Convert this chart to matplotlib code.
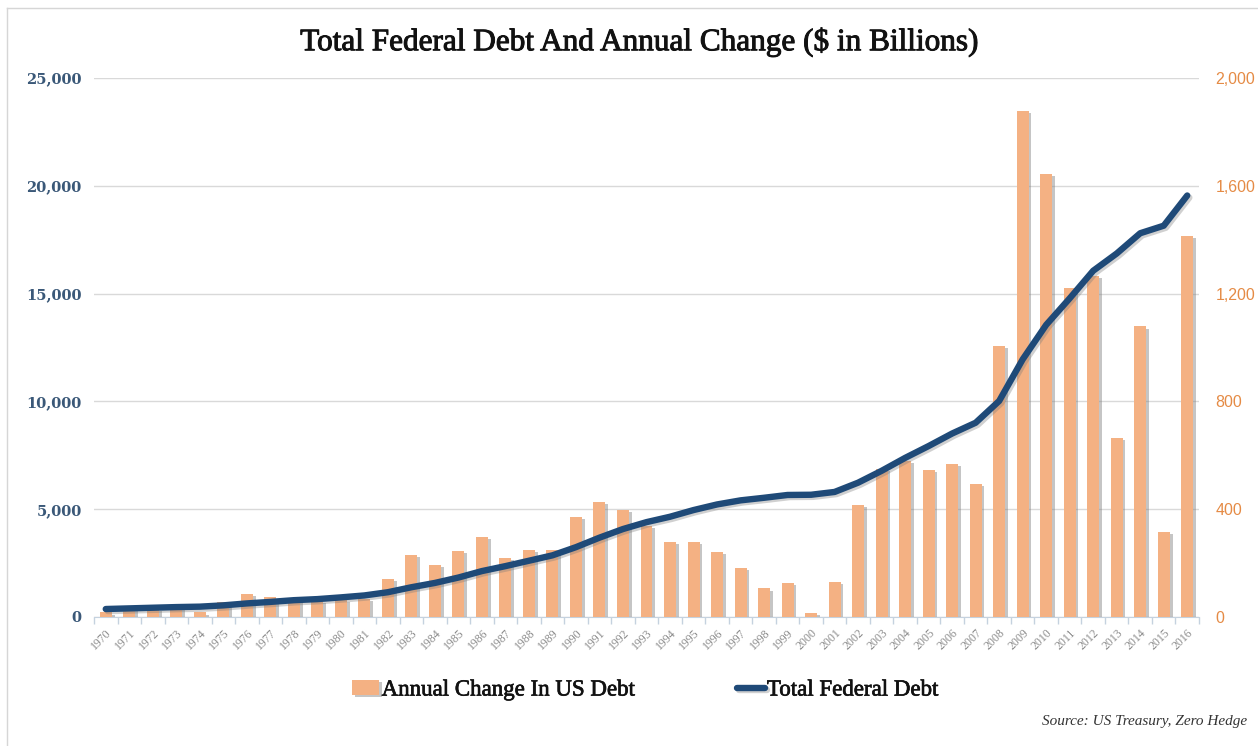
import matplotlib
matplotlib.use("Agg")
import matplotlib.pyplot as plt
import matplotlib.patheffects as pe
from matplotlib.lines import Line2D
from matplotlib.ticker import FuncFormatter, FixedLocator
import numpy as np

# ---------------- data ----------------
years = list(range(1970, 2017))
annual_change = [17, 30, 30, 35, 17, 55, 85, 74, 62, 58,
                 62, 68, 140, 230, 193, 244, 296, 220, 248, 250,
                 372, 427, 396, 338, 277, 277, 243, 183, 106, 127,
                 14, 131, 415, 551, 578, 547, 569, 494, 1007, 1878,
                 1645, 1221, 1267, 664, 1078, 316, 1415]
total_debt = [370, 400, 430, 460, 480, 540, 630, 700, 780, 830,
              910, 1000, 1150, 1380, 1580, 1830, 2130, 2360, 2610, 2860,
              3240, 3680, 4080, 4400, 4650, 4960, 5220, 5410, 5530, 5660,
              5670, 5800, 6230, 6780, 7380, 7930, 8510, 9010, 10020, 11950,
              13550, 14780, 16060, 16860, 17800, 18150, 19550]
left_ticks = [0, 5000, 10000, 15000, 20000, 25000]
right_ticks = [0, 400, 800, 1200, 1600, 2000]
title = "Total Federal Debt And Annual Change ($ in Billions)"
bar_label = "Annual Change In US Debt"
line_label = "Total Federal Debt"
source = "Source: US Treasury, Zero Hedge"

BAR_C = "#f4b183"
LINE_C = "#1f4a78"
LEFT_C = "#3a5878"
RIGHT_C = "#e58b45"

fig = plt.figure(figsize=(12.58, 7.46), dpi=100)
ax = fig.add_axes([94 / 1258, 1 - 617 / 746, (1199 - 94) / 1258, (617 - 78) / 746])

x = np.arange(len(years))
bars = ax.bar(x, annual_change, width=0.51, color=BAR_C, linewidth=0, zorder=3,
              path_effects=[pe.SimplePatchShadow(offset=(2.0, -1.5), shadow_rgbFace="#808080", alpha=0.45),
                            pe.Normal()])
ax.set_xlim(-0.5, len(years) - 0.5)
ax.set_ylim(right_ticks[0], right_ticks[-1])
ax.grid(axis="y", color="#d9d9d9", linewidth=1)
ax.set_axisbelow(True)

ax.set_xticks(x)
ax.set_xticklabels([str(y) for y in years], rotation=45, ha="right",
                   rotation_mode="anchor", fontsize=8.5, color="#8a8a8a",
                   family="Liberation Serif")
ax.tick_params(axis="x", which="major", length=0, pad=7)
ax.xaxis.set_minor_locator(FixedLocator(np.arange(-0.5, len(years), 1.0)))
ax.tick_params(axis="x", which="minor", length=5, color="#c5d2df", width=1)
for s in ("top", "left", "right"):
    ax.spines[s].set_visible(False)
ax.spines["bottom"].set_color("#c5d2df")

ax2 = ax.twinx()
line, = ax2.plot(x, total_debt, color=LINE_C, lw=4.6, solid_joinstyle="round",
                 solid_capstyle="round", zorder=5,
                 path_effects=[pe.SimpleLineShadow(offset=(1.5, -1.5), shadow_color="#7a7a7a", alpha=0.35),
                               pe.Normal()])
ax2.set_ylim(left_ticks[0], left_ticks[-1])
for s in ax2.spines.values():
    s.set_visible(False)

# right axis (bars) labels on the right
ax.yaxis.tick_right()
ax.yaxis.set_label_position("right")
ax.set_yticks(right_ticks)
ax.yaxis.set_major_formatter(FuncFormatter(lambda v, p: f"{int(v):,}"))
ax.tick_params(axis="y", length=0, pad=12, labelcolor=RIGHT_C, labelsize=11.5,
               left=False, labelleft=False, right=False, labelright=True)
for lbl in ax.get_yticklabels():
    lbl.set_family("Liberation Sans")

# left axis (line) labels on the left
ax2.yaxis.tick_left()
ax2.yaxis.set_label_position("left")
ax2.set_yticks(left_ticks)
ax2.yaxis.set_major_formatter(FuncFormatter(lambda v, p: f"{int(v):,}"))
ax2.tick_params(axis="y", length=0, pad=9, labelcolor=LEFT_C, labelsize=10.5,
                left=False, labelleft=True, right=False, labelright=False)
for lbl in ax2.get_yticklabels():
    lbl.set_family("DejaVu Serif")
    lbl.set_fontweight("bold")

heavy = [pe.withStroke(linewidth=0.7, foreground="#111111")]
fig.text(640 / 1258, 1 - 42 / 746, title, ha="center", va="center",
         fontsize=22.5, family="Liberation Serif", color="#111111", path_effects=heavy)

leg = fig.legend(handles=[bars, line], labels=[bar_label, line_label], loc="center",
                 bbox_to_anchor=(645 / 1258, 1 - 690 / 746), ncol=2, frameon=False,
                 prop=dict(family="Liberation Serif", size=16.5),
                 handlelength=1.2, handleheight=0.6, handletextpad=0.1, columnspacing=4.5)
for t in leg.get_texts():
    t.set_color("#111111")
    t.set_path_effects([pe.withStroke(linewidth=0.5, foreground="#111111")])

fig.text(1247 / 1258, 1 - 722 / 746, source, ha="right", va="center", style="italic",
         family="Liberation Serif", fontsize=11, color="#333333")

fig.add_artist(Line2D([7 / 1258, 1.0], [1 - 8 / 746, 1 - 8 / 746], color="#d6d6d6", lw=1))
fig.add_artist(Line2D([7 / 1258, 7 / 1258], [0.0, 1 - 8 / 746], color="#d6d6d6", lw=1))

fig.savefig("out.png", dpi=100)
